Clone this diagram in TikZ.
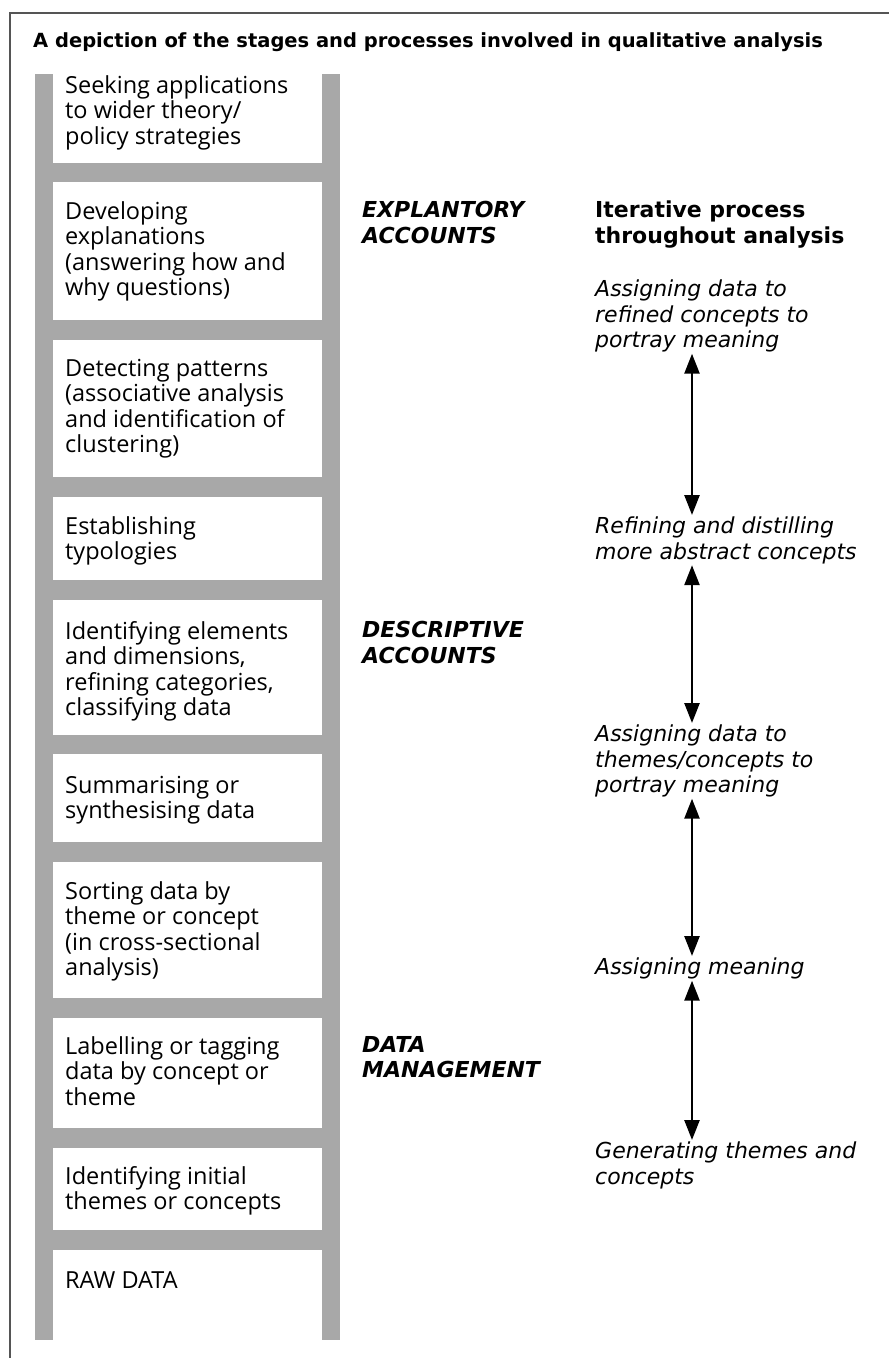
\documentclass[tikz,border=0pt]{standalone}
\usepackage{fontspec}
\setmainfont{Open Sans}
\newfontfamily\headfont{DejaVu Sans}
\usetikzlibrary{arrows.meta}
\definecolor{railgray}{RGB}{168,168,168}
\definecolor{framegray}{RGB}{85,85,85}
\begin{document}
\begin{tikzpicture}[x=1pt,y=-1pt,
  stage/.style={anchor=north west, inner sep=0pt, align=left, font=\fontsize{23.5}{25.5}\selectfont},
  level/.style={anchor=north west, inner sep=0pt, align=left, font=\headfont\fontsize{22}{25.5}\selectfont\bfseries\itshape},
  head/.style={anchor=north west, inner sep=0pt, align=left, font=\headfont\fontsize{22}{25.5}\selectfont\bfseries},
  proc/.style={anchor=north west, inner sep=0pt, align=left, font=\headfont\fontsize{22}{25.5}\selectfont\itshape},
  link/.style={{Triangle[length=20pt,width=15pt]}-{Triangle[length=20pt,width=15pt]}, line width=2.5pt, shorten <=1pt, shorten >=2pt}]
\useasboundingbox (0,0) rectangle (889,1358);
\draw[framegray, line width=2.5pt] (889,13) -- (10,13) -- (10,1358);
\node[anchor=west, inner sep=0pt, font=\headfont\fontsize{19.5}{22}\selectfont\bfseries] (title) at (33,42) {A depiction of the stages and processes involved in qualitative analysis};
\fill[railgray] (35,74) rectangle (340,1340);
\fill[white] (53,74) rectangle (322,163);
\fill[white] (53,182) rectangle (322,320);
\fill[white] (53,340) rectangle (322,477);
\fill[white] (53,497) rectangle (322,580);
\fill[white] (53,600) rectangle (322,735);
\fill[white] (53,754) rectangle (322,842);
\fill[white] (53,862) rectangle (322,998);
\fill[white] (53,1018) rectangle (322,1128);
\fill[white] (53,1148) rectangle (322,1230);
\fill[white] (53,1250) rectangle (322,1340);
\node[stage] (s1) at (65,75) {Seeking applications\\to wider theory/\\policy strategies};
\node[stage] (s2) at (65,201) {Developing\\explanations\\(answering how and\\why questions)};
\node[stage] (s3) at (65,359) {Detecting patterns\\(associative analysis\\and identification of\\clustering)};
\node[stage] (s4) at (65,516) {Establishing\\typologies};
\node[stage] (s5) at (65,621) {Identifying elements\\and dimensions,\\refining categories,\\classifying data};
\node[stage] (s6) at (65,776) {Summarising or\\synthesising data};
\node[stage] (s7) at (65,881) {Sorting data by\\theme or concept\\(in cross-sectional\\analysis)};
\node[stage] (s8) at (65,1036) {Labelling or tagging\\data by concept or\\theme};
\node[stage] (s9) at (65,1166) {Identifying initial\\themes or concepts};
\node[stage] (s10) at (65,1271) {RAW DATA};
\node[level] (explan) at (362,201) {EXPLANTORY\\ACCOUNTS};
\node[level] (descr) at (362,621) {DESCRIPTIVE\\ACCOUNTS};
\node[level] (datam) at (362,1036) {DATA\\MANAGEMENT};
\node[head] (iter) at (595,201) {Iterative process\\throughout analysis};
\node[proc] (p1) at (595,280) {Assigning data to\\refined concepts to\\portray meaning};
\node[proc] (p2) at (595,517) {Refining and distilling\\more abstract concepts};
\node[proc] (p3) at (595,725) {Assigning data to\\themes/concepts to\\portray meaning};
\node[proc] (p4) at (595,958) {Assigning meaning};
\node[proc] (p5) at (595,1142) {Generating themes and\\concepts};
\draw[link] ([xshift=97pt]p1.south west) -- ([xshift=97pt]p2.north west);
\draw[link] ([xshift=97pt]p2.south west) -- ([xshift=97pt]p3.north west);
\draw[link] ([xshift=97pt]p3.south west) -- ([xshift=97pt]p4.north west);
\draw[link] ([xshift=97pt]p4.south west) -- ([xshift=97pt]p5.north west);
\end{tikzpicture}
\end{document}
